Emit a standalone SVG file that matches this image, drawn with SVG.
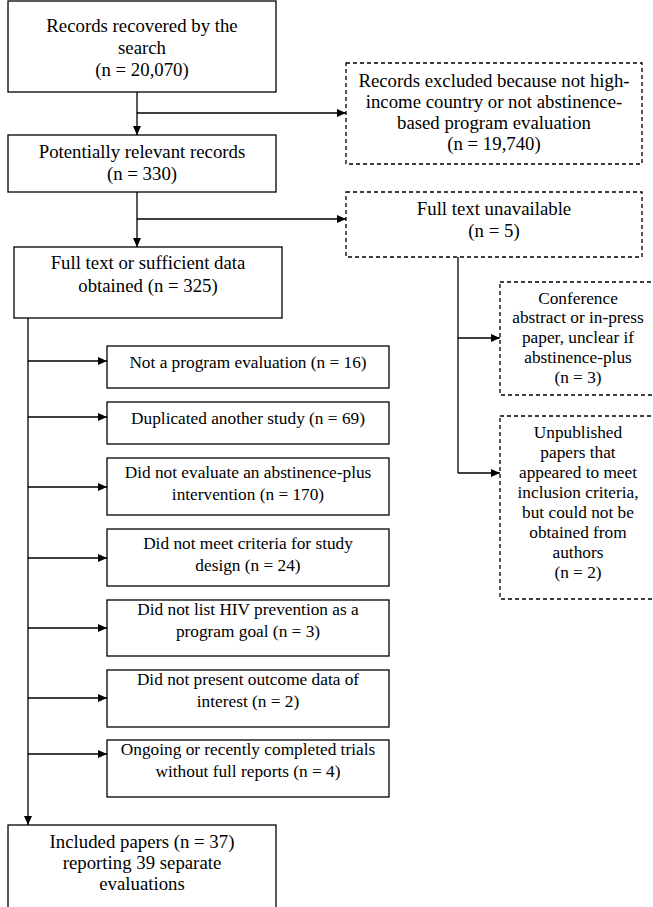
<svg xmlns="http://www.w3.org/2000/svg" width="653" height="907" viewBox="0 0 653 907">
<style>
.b{fill:#fff;stroke:#000;stroke-width:1.3}
.d{fill:#fff;stroke:#000;stroke-width:1.3;stroke-dasharray:4 3}
.t text{font-size:18.8px;fill:#000;text-anchor:middle}
.t .s text{font-size:17.3px}
.c{fill:none;stroke:#000;stroke-width:1.3}
</style>
<defs>
<marker id="ah" markerWidth="10" markerHeight="8" refX="9" refY="4" orient="auto" markerUnits="userSpaceOnUse">
<path d="M0,0 L9,4 L0,8 Z" fill="#000"/>
</marker>
</defs>
<rect width="653" height="907" fill="#fff"/>
<g id="connectors">
<line class="c" x1="137" y1="92" x2="137" y2="135" marker-end="url(#ah)"/>
<line class="c" x1="137" y1="113" x2="346" y2="113" marker-end="url(#ah)"/>
<line class="c" x1="137" y1="192" x2="137" y2="247" marker-end="url(#ah)"/>
<line class="c" x1="137" y1="219" x2="346" y2="219" marker-end="url(#ah)"/>
<line class="c" x1="458" y1="257" x2="458" y2="473"/>
<line class="c" x1="458" y1="338" x2="500" y2="338" marker-end="url(#ah)"/>
<line class="c" x1="458" y1="473" x2="500" y2="473" marker-end="url(#ah)"/>
<line class="c" x1="28" y1="318" x2="28" y2="825" marker-end="url(#ah)"/>
<line class="c" x1="28" y1="361" x2="107" y2="361" marker-end="url(#ah)"/>
<line class="c" x1="28" y1="417" x2="107" y2="417" marker-end="url(#ah)"/>
<line class="c" x1="28" y1="487" x2="107" y2="487" marker-end="url(#ah)"/>
<line class="c" x1="28" y1="558" x2="107" y2="558" marker-end="url(#ah)"/>
<line class="c" x1="28" y1="628" x2="107" y2="628" marker-end="url(#ah)"/>
<line class="c" x1="28" y1="698" x2="107" y2="698" marker-end="url(#ah)"/>
<line class="c" x1="28" y1="754" x2="107" y2="754" marker-end="url(#ah)"/>
</g>
<g class="t" font-family="'Liberation Serif', Tinos, 'DejaVu Serif', serif">
<g id="n1"><rect class="b" x="8" y="1" width="268" height="91"/>
<text x="142" y="32">Records recovered by the</text><text x="142" y="54">search</text><text x="142" y="76">(n = 20,070)</text></g>
<g id="n2"><rect class="b" x="8" y="135" width="268" height="57"/>
<text x="142" y="158">Potentially relevant records</text><text x="142" y="180">(n = 330)</text></g>
<g id="n3"><rect class="b" x="14" y="247" width="268" height="71"/>
<text x="148" y="269">Full text or sufficient data</text><text x="148" y="292">obtained (n = 325)</text></g>
<g id="nA"><rect class="d" x="346" y="63" width="296" height="101"/>
<text x="494" y="87">Records excluded because not high-</text><text x="494" y="108">income country or not abstinence-</text><text x="494" y="129">based program evaluation</text><text x="494" y="150">(n = 19,740)</text></g>
<g id="nB"><rect class="d" x="346" y="192" width="296" height="65"/>
<text x="494" y="215">Full text unavailable</text><text x="494" y="237">(n = 5)</text></g>
<g id="nC" class="s"><rect class="d" x="500" y="282" width="156" height="113"/>
<text x="578" y="304">Conference</text><text x="578" y="323">abstract or in-press</text><text x="578" y="343">paper, unclear if</text><text x="578" y="363">abstinence-plus</text><text x="578" y="383">(n = 3)</text></g>
<g id="nD" class="s"><rect class="d" x="500" y="416" width="156" height="183"/>
<text x="578" y="438">Unpublished</text><text x="578" y="458">papers that</text><text x="578" y="478">appeared to meet</text><text x="578" y="498">inclusion criteria,</text><text x="578" y="518">but could not be</text><text x="578" y="538">obtained from</text><text x="578" y="558">authors</text><text x="578" y="578">(n = 2)</text></g>
<g id="e1" class="s"><rect class="b" x="107" y="346" width="282" height="42"/>
<text x="248" y="368">Not a program evaluation (n = 16)</text></g>
<g id="e2" class="s"><rect class="b" x="107" y="402" width="282" height="42"/>
<text x="248" y="424">Duplicated another study (n = 69)</text></g>
<g id="e3" class="s"><rect class="b" x="107" y="458" width="282" height="57"/>
<text x="248" y="478">Did not evaluate an abstinence-plus</text><text x="248" y="500">intervention (n = 170)</text></g>
<g id="e4" class="s"><rect class="b" x="107" y="529" width="282" height="57"/>
<text x="248" y="549">Did not meet criteria for study</text><text x="248" y="571">design (n = 24)</text></g>
<g id="e5" class="s"><rect class="b" x="107" y="600" width="282" height="56"/>
<text x="248" y="615">Did not list HIV prevention as a</text><text x="248" y="637">program goal (n = 3)</text></g>
<g id="e6" class="s"><rect class="b" x="107" y="670" width="282" height="57"/>
<text x="248" y="685">Did not present outcome data of</text><text x="248" y="707">interest (n = 2)</text></g>
<g id="e7" class="s"><rect class="b" x="107" y="740" width="282" height="57"/>
<text x="248" y="755">Ongoing or recently completed trials</text><text x="248" y="777">without full reports (n = 4)</text></g>
<g id="n4"><rect class="b" x="8" y="825" width="268" height="90"/>
<text x="142" y="848">Included papers (n = 37)</text><text x="142" y="869">reporting 39 separate</text><text x="142" y="890">evaluations</text></g>
</g>
</svg>
